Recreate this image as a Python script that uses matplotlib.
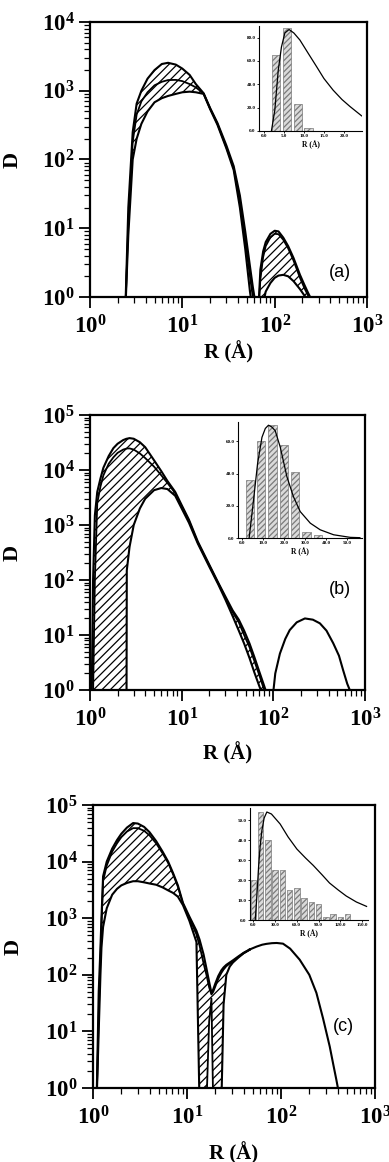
"""Size distributions D(R) with hatched uncertainty bands and histogram insets."""

import matplotlib
matplotlib.use("Agg")
import matplotlib.pyplot as plt
import numpy as np
from matplotlib.ticker import (FixedLocator, FormatStrFormatter, FuncFormatter,
                               LogLocator, NullFormatter)

plt.rcParams["font.family"] = ["Liberation Serif", "DejaVu Serif"]
plt.rcParams["font.weight"] = "bold"
plt.rcParams["mathtext.fontset"] = "custom"
plt.rcParams["mathtext.rm"] = "Liberation Serif:bold"
plt.rcParams["mathtext.bf"] = "Liberation Serif:bold"
plt.rcParams["mathtext.it"] = "Liberation Serif:bold:italic"
plt.rcParams["hatch.linewidth"] = 0.9

# ---- panel (a) ----
ra_main = [2.4, 2.6, 2.9, 3.2, 3.6, 4.2, 5.0, 6.0, 7.0, 8.5, 10, 12, 14, 17,
           20, 24, 30, 36, 42, 48, 54, 58, 62, 66]
da_main_up = [0.5, 20, 250, 650, 1000, 1500, 2000, 2450, 2550, 2400, 2100, 1700,
              1250, 920, 560, 340, 160, 80, 30, 9, 2.8, 1.4, 0.8, 0.4]
da_main_mid = [0.5, 12, 180, 450, 700, 950, 1200, 1350, 1430, 1440, 1380, 1250,
               1120, 910, 550, 330, 150, 75, 24, 7, 2.0, 1.0, 0.6, 0.4]
da_main_lo = [0.5, 8, 100, 200, 330, 500, 680, 780, 840, 900, 950, 970,
              950, 900, 540, 320, 145, 70, 20, 5, 1.2, 0.6, 0.4, 0.3]
ra_second = [66, 70, 75, 80, 90, 100, 110, 124, 140, 160, 188, 210, 230, 252, 265]
da_second_up = [0.5, 2.5, 4.6, 6.3, 8.3, 9.2, 9.0, 7.3, 5.5, 3.7, 2.1, 1.5, 1.15, 0.9, 0.6]
da_second_mid = [0.5, 1.8, 3.8, 5.5, 7.4, 8.3, 8.2, 6.8, 5.1, 3.4, 1.9, 1.35, 1.05, 0.85, 0.6]
da_second_lo = [0.3, 0.5, 0.8, 1.2, 1.6, 1.9, 2.05, 2.1, 2.0, 1.7, 1.3, 1.05, 0.9, 0.8, 0.6]
# inset (a)
ia_bins = [3.1, 5.8, 8.5, 11.2]
ia_counts = [65, 88, 23, 2.5]
ia_fit_r = [1.9, 2.75, 3.6, 4.4, 5.25, 6.3, 7.5, 9.0, 11, 13.2, 15, 17.3, 19.5, 21.5, 24.4]
ia_fit = [0, 18, 52, 72, 84, 87, 84, 78, 67, 55, 45, 35, 27, 21, 13]

# ---- panel (b) ----
rb_main = [1.04, 1.08, 1.13, 1.2, 1.3, 1.4, 1.6, 1.8, 2.0, 2.3, 2.5,
           2.52, 2.7, 3.0, 3.5, 4.0, 5.0, 6.0, 7.0, 8.5, 10,
           12, 15, 20, 25, 30, 36, 42, 48, 55, 62, 70, 78, 86, 95]
db_main_up = [0.5, 100, 1500, 4000, 7000, 11000, 18000, 25000, 30000, 35000, 37000,
              37000, 38000, 37000, 32000, 26000, 15000, 9500, 6300, 4000, 2300,
              1250, 500, 190, 90, 50, 28, 19, 12, 7, 4, 2.2, 1.3, 0.8, 0.5]
db_main_mid = [0.5, 0.8, 100, 2500, 5000, 8000, 13000, 17000, 20500, 23500, 24500,
               24600, 24700, 23500, 20000, 16500, 11500, 8000, 5800, 3800, 2200,
               1200, 480, 185, 88, 48, 26, 17, 10, 6, 3.4, 1.9, 1.1, 0.7, 0.4]
db_main_lo = [0.3, 0.3, 0.3, 0.3, 0.3, 0.3, 0.3, 0.3, 0.3, 0.3, 0.3,
              150, 400, 1000, 2000, 3000, 4300, 4700, 4500, 3400, 2000,
              1100, 460, 175, 84, 44, 22, 12, 7, 3.8, 2.1, 1.2, 0.75, 0.5, 0.3]
rb_second = [96, 105, 118, 135, 151, 180, 221, 270, 322, 380, 450, 520, 577, 640, 700, 740]
db_second = [0.5, 2.0, 4.6, 8.5, 12.3, 17, 20, 19, 16.3, 12, 7.1, 4.2, 2.3, 1.3, 0.9, 0.5]
# inset (b)
ib_bins = [3.6, 9.0, 14.4, 19.8, 25.2, 30.6, 36.0]
ib_counts = [36, 60, 70, 58, 41, 4, 2]
ib_fit_r = [3.3, 5.4, 7.3, 9.4, 11, 12.5, 14, 15.7, 18.1, 21.3, 24.4, 27.6, 32.4, 37.1,
            43.5, 51.4, 56]
ib_fit = [0, 23.6, 46, 62.5, 68, 70, 69, 66.6, 56.4, 37.9, 25.6, 16.4, 9.2, 5.1,
          2.0, 0.4, 0.2]

# ---- panel (c) ----
rc_main = [1.09, 1.15, 1.2, 1.23, 1.28, 1.4, 1.6, 1.8, 2.0, 2.3,
           2.67, 3.0, 3.5, 4.0, 4.7, 5.5, 6.3, 7.1, 8.0, 9.06,
           10.6, 12.6, 13.6, 15.0, 16.1, 17.2, 18.2, 19.0, 20.0, 21.5,
           23.2, 24.5, 26.2, 28.5, 30.8, 35, 40, 46.4]
dc_main_up = [0.5, 50, 300, 1000, 5500, 10000, 17000, 24000, 31000, 40000,
              48000, 47000, 41000, 33000, 23000, 15000, 10000, 6300, 3800, 1860,
              1070, 600, 420, 230, 130, 75, 48, 55, 70, 95,
              120, 135, 150, 165, 180, 210, 245, 280]
dc_main_mid = [0.5, 20, 200, 700, 4500, 8500, 15000, 21000, 27000, 34000,
               39000, 39000, 35000, 29000, 21000, 14000, 9500, 6000, 3600, 1800,
               1000, 520, 330, 160, 100, 60, 45, 50, 62, 85,
               108, 124, 142, 158, 173, 205, 240, 278]
dc_main_lo = [0.5, 10, 100, 300, 700, 1500, 2600, 3300, 3800, 4200,
              4500, 4500, 4300, 4100, 3900, 3500, 3100, 2800, 2400, 1700,
              900, 380, 0.5, 0.5, 0.5, 0.5, 0.5, 0.5, 0.5, 0.5,
              0.5, 30, 100, 140, 165, 200, 240, 277]
dc_main_gap = [0.5, 0.5, 0.5, 0.5, 0.5, 0.5, 0.5, 0.5, 0.5, 0.5,
               0.5, 0.5, 0.5, 0.5, 0.5, 0.5, 0.5, 0.5, 0.5, 0.5,
               0.5, 0.5, 0.5, 0.5, 0.5, 15, 38, 0.5, 0.5, 0.5,
               0.5, 0.5, 0.5, 0.5, 0.5, 0.5, 0.5, 0.5]
rc_second = [46.4, 55, 63, 70, 80, 90, 105, 125, 158, 200, 238, 280, 330, 360, 388, 408, 425]
dc_second = [280, 315, 340, 352, 362, 365, 355, 290, 185, 100, 48, 17, 5.4, 2.6, 1.4, 0.9, 0.5]
# inset (c)
ic_bins = [0, 10, 20, 30, 40, 50, 60, 70, 80, 90, 100, 110, 120, 130]
ic_counts = [20, 54, 40, 25, 25, 15, 16, 11, 9, 8, 1.7, 2.8, 1.7, 2.8]
ic_fit_r = [2.7, 5, 7.3, 9.5, 11.9, 15, 18.7, 25, 37, 48, 60, 72, 82.6, 95, 105, 117,
            128, 142, 156]
ic_fit = [0, 12, 26.5, 37, 44.8, 51, 54, 53, 48, 41.5, 35.5, 31, 27.3, 22.5, 18.5, 15,
          12, 9, 6.8]

W, H = 389, 1162
fig = plt.figure(figsize=(W / 100, H / 100), dpi=100)


def px_axes(left, top, right, bottom):
    return fig.add_axes([left / W, 1 - bottom / H, (right - left) / W, (bottom - top) / H])


def style_main(ax, ytop, xlab_y):
    ax.set_xscale("log")
    ax.set_yscale("log")
    ax.set_xlim(1, 1000)
    ax.set_ylim(1, 10 ** ytop)
    for s in ax.spines.values():
        s.set_linewidth(1.6)
    fmt = FuncFormatter(lambda v, p: r"$10^{%d}$" % round(np.log10(v)))
    ax.xaxis.set_major_locator(FixedLocator([1, 10, 100, 1000]))
    ax.yaxis.set_major_locator(FixedLocator([10 ** k for k in range(ytop + 1)]))
    ax.xaxis.set_minor_locator(LogLocator(base=10, subs=np.arange(2, 10), numticks=20))
    ax.yaxis.set_minor_locator(LogLocator(base=10, subs=np.arange(2, 10), numticks=20))
    ax.xaxis.set_major_formatter(fmt)
    ax.yaxis.set_major_formatter(fmt)
    ax.xaxis.set_minor_formatter(NullFormatter())
    ax.yaxis.set_minor_formatter(NullFormatter())
    ax.tick_params(which="major", direction="out", length=8, width=1.3,
                   labelsize=16.5, pad=3)
    ax.tick_params(axis="x", which="major", pad=5)
    ax.tick_params(which="minor", direction="out", length=4.5, width=0.9)
    ax.set_xlabel("R (Å)", fontsize=15, fontweight="bold")
    ax.set_ylabel("D", fontsize=16, fontweight="bold")
    ax.xaxis.set_label_coords(0.5, xlab_y)
    ax.yaxis.set_label_coords(-0.245, 0.5)


def band(ax, r, up, lo, mid=None):
    ax.fill_between(r, lo, up, facecolor="none", edgecolor="black", hatch="////",
                    linewidth=0, zorder=1)
    ax.plot(r, up, color="black", lw=1.5, zorder=3)
    ax.plot(r, lo, color="black", lw=1.5, zorder=3)
    if mid is not None:
        ax.plot(r, mid, color="black", lw=1.3, zorder=3)


def style_inset(ax, xlim, ylim, xticks, yticks):
    ax.set_xlim(*xlim)
    ax.set_ylim(*ylim)
    ax.patch.set_visible(False)
    ax.spines["top"].set_visible(False)
    ax.spines["right"].set_visible(False)
    ax.spines["left"].set_linewidth(0.8)
    ax.spines["bottom"].set_linewidth(0.8)
    ax.set_xticks(xticks)
    ax.set_yticks(yticks)
    ax.xaxis.set_major_formatter(FormatStrFormatter("%.1f"))
    ax.yaxis.set_major_formatter(FormatStrFormatter("%.1f"))
    ax.tick_params(direction="out", length=1.5, width=0.6, labelsize=3.6, pad=1)
    ax.set_xlabel("R (Å)", fontsize=5.5, fontweight="bold", labelpad=1.5)


def inset_bars(ax, bins, counts, width, fit_r, fit):
    ax.bar(bins, counts, width=width, facecolor="#dadada", edgecolor="#7a7a7a",
           hatch="//////", linewidth=0.5)
    ax.plot(fit_r, fit, color="black", lw=0.9)


# panel (a)
ax = px_axes(90, 22, 367, 297)
style_main(ax, 4, -0.16)
band(ax, ra_main, da_main_up, da_main_lo, da_main_mid)
band(ax, ra_second, da_second_up, da_second_lo, da_second_mid)
ax.text(0.903, 0.09, "(a)", transform=ax.transAxes, ha="center", va="center",
        fontsize=13, fontweight="normal", family=["Liberation Sans", "DejaVu Sans"])
ins = px_axes(259, 26, 362, 131)
style_inset(ins, (-1.2, 24.5), (0, 90), [0, 5, 10, 15, 20], [0, 20, 40, 60, 80])
inset_bars(ins, ia_bins, ia_counts, 2.1, ia_fit_r, ia_fit)

# panel (b)
ax = px_axes(90, 415, 365, 690)
style_main(ax, 5, -0.19)
band(ax, rb_main, db_main_up, db_main_lo, db_main_mid)
ax.plot(rb_second, db_second, color="black", lw=1.5, zorder=3)
ax.text(0.909, 0.364, "(b)", transform=ax.transAxes, ha="center", va="center",
        fontsize=13, fontweight="normal", family=["Liberation Sans", "DejaVu Sans"])
ins = px_axes(238, 422, 362, 538)
style_inset(ins, (-2, 57), (0, 72), [0, 10, 20, 30, 40, 50], [0, 20, 40, 60])
inset_bars(ins, ib_bins, ib_counts, 3.9, ib_fit_r, ib_fit)

# panel (c)
ax = px_axes(93, 805, 375, 1088)
style_main(ax, 5, -0.19)
band(ax, rc_main, dc_main_up, dc_main_lo, dc_main_mid)
ax.fill_between(rc_main, 0.5, dc_main_gap, facecolor="white", linewidth=0, zorder=2)
ax.plot(rc_main, dc_main_gap, color="black", lw=1.3, zorder=3)
ax.plot(rc_second, dc_second, color="black", lw=1.5, zorder=3)
ax.text(0.887, 0.216, "(c)", transform=ax.transAxes, ha="center", va="center",
        fontsize=13, fontweight="normal", family=["Liberation Sans", "DejaVu Sans"])
ins = px_axes(250, 808, 368, 920)
style_inset(ins, (-4.5, 158), (0, 56), [0, 30, 60, 90, 120, 150],
            [0, 10, 20, 30, 40, 50])
inset_bars(ins, ic_bins, ic_counts, 7.5, ic_fit_r, ic_fit)

fig.savefig("out.png", dpi=100)
